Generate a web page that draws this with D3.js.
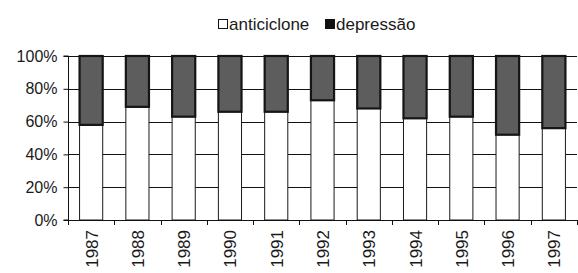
<!DOCTYPE html>
<html><head><meta charset="utf-8">
<script src="https://cdn.jsdelivr.net/npm/d3@7"></script>
<style>
html,body{margin:0;padding:0;background:#fff;}
svg{display:block;}
text{font-family:"Liberation Sans",Arial,sans-serif;fill:#1a1a1a;}
</style></head>
<body><svg id="chart" width="578" height="273"></svg>
<script>
const years = ["1987","1988","1989","1990","1991","1992","1993","1994","1995","1996","1997"];
const anticiclone = [58, 69, 63, 66, 66, 73, 68, 62, 63, 52, 56];
const depressao = anticiclone.map(v => 100 - v);
const seriesNames = ["anticiclone", "depressão"];
const yTicks = [0, 20, 40, 60, 80, 100];

const svg = d3.select("#chart");
const m = {left: 68, right: 1, top: 56, bottom: 53};
const W = 578, H = 273;
const x = d3.scaleBand().domain(years).range([m.left, W - m.right]).paddingInner(0.5).paddingOuter(0.25);
const y = d3.scaleLinear().domain([0, 100]).range([H - m.bottom, m.top]);

// gridlines
svg.append("g").selectAll("line").data(yTicks.filter(d => d > 0)).join("line")
  .attr("x1", m.left).attr("x2", W - m.right)
  .attr("y1", d => Math.round(y(d)) + 0.5).attr("y2", d => Math.round(y(d)) + 0.5)
  .attr("stroke", "#111").attr("stroke-width", 1);

// stacked data
const table = years.map((yr, i) => ({year: yr, anticiclone: anticiclone[i], "depressão": depressao[i]}));
const stacked = d3.stack().keys(seriesNames)(table);
const fills = {"anticiclone": "#ffffff", "depressão": "#5d5d5d"};
const strokes = {"anticiclone": "#1a1a1a", "depressão": "#151515"};
const sw = {"anticiclone": 1, "depressão": 2.2};

stacked.forEach(s => {
  svg.append("g").selectAll("rect").data(s).join("rect")
    .attr("x", d => x(d.data.year))
    .attr("width", x.bandwidth())
    .attr("y", d => y(d[1]))
    .attr("height", d => y(d[0]) - y(d[1]))
    .attr("fill", fills[s.key])
    .attr("stroke", strokes[s.key])
    .attr("stroke-width", sw[s.key]);
});

// y axis
const yAxis = d3.axisLeft(y).tickValues(yTicks).tickFormat(d => d + "%").tickSize(5).tickPadding(6);
const gy = svg.append("g").attr("transform", `translate(${m.left + 0.5},0)`).call(yAxis);
gy.select(".domain").attr("stroke", "#111").attr("d", `M-5,${y(0)}H0V${y(100)}H-5`);
gy.selectAll(".tick line").attr("stroke", "#111");
gy.selectAll("text").style("font-size", "16px").attr("fill", "#1a1a1a");

// x axis: line at bottom, ticks at band boundaries
const step = x.step();
const bounds = years.map(d => x(d) + x.bandwidth() / 2 - step / 2).concat([x(years[years.length - 1]) + x.bandwidth() / 2 + step / 2]);
const gx = svg.append("g");
gx.append("line").attr("x1", m.left).attr("x2", W - m.right)
  .attr("y1", y(0) + 0.5).attr("y2", y(0) + 0.5).attr("stroke", "#111");
gx.selectAll("line.t").data(bounds).join("line").attr("class", "t")
  .attr("x1", d => Math.round(d) + 0.5).attr("x2", d => Math.round(d) + 0.5)
  .attr("y1", y(0)).attr("y2", y(0) + 5).attr("stroke", "#111");
gx.selectAll("text").data(years).join("text")
  .attr("transform", d => `translate(${x(d) + x.bandwidth() / 2 + 6.5},${y(0) + 10}) rotate(-90)`)
  .attr("text-anchor", "end")
  .style("font-size", "17px")
  .text(d => d);

// legend
const lg = svg.append("g");
const items = [{k: "anticiclone", x: 218}, {k: "depressão", x: 325}];
items.forEach(it => {
  lg.append("rect").attr("x", it.x + 0.5).attr("y", 19.5).attr("width", 9).attr("height", 9)
    .attr("fill", it.k === "anticiclone" ? "#fff" : "#111").attr("stroke", "#111");
  lg.append("text").attr("x", it.x + 11).attr("y", 30).style("font-size", "17px").text(it.k);
});
</script></body></html>
